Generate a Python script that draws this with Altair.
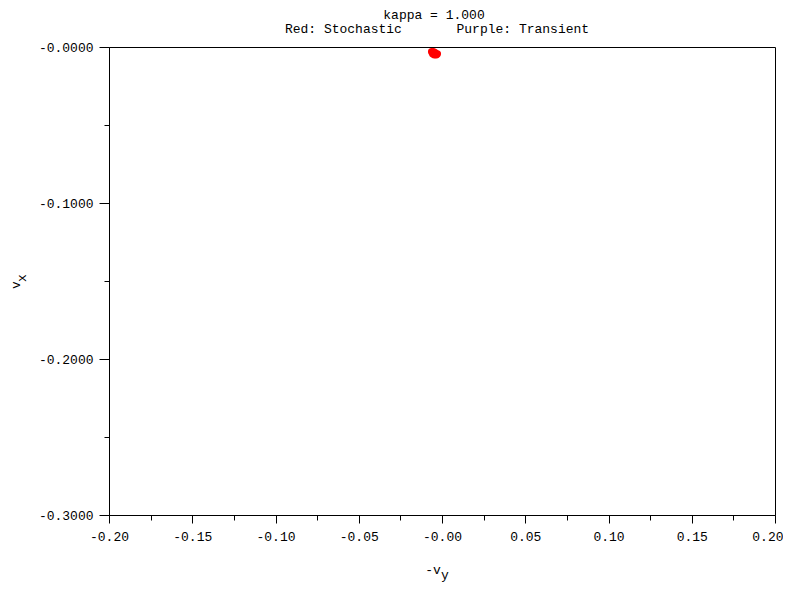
import altair as alt
import pandas as pd

# Red (stochastic) trajectory points: x = -v_y, y = v_x
stoch_x = [-0.0062, -0.0052, -0.0042, -0.0056, -0.0046, -0.0034, -0.0028, -0.0040]
stoch_y = [-0.0030, -0.0030, -0.0036, -0.0044, -0.0050, -0.0050, -0.0044, -0.0042]

x_major = [-0.20, -0.15, -0.10, -0.05, 0.0, 0.05, 0.10, 0.15, 0.20]
x_minor = [-0.175, -0.125, -0.075, -0.025, 0.025, 0.075, 0.125, 0.175]
y_major = [0.0, -0.1, -0.2, -0.3]
y_minor = [-0.05, -0.15, -0.25]

NB = "\u00a0"
title_lines = ["kappa = 1.000", "Red: Stochastic" + NB * 7 + "Purple: Transient"]

FONT = "Liberation Mono"
FS = 13

df = pd.DataFrame({"x": stoch_x, "y": stoch_y})

x_scale = alt.Scale(domain=[-0.2, 0.2], nice=False, zero=False)
y_scale = alt.Scale(domain=[-0.3, 0.0], nice=False, zero=False)

x_minor_test = "abs(datum.value*20 - round(datum.value*20)) > 0.001"
y_minor_test = "abs(datum.value*10 - round(datum.value*10)) > 0.001"

x_axis = alt.Axis(
    values=x_major + x_minor,
    orient="bottom",
    title=None,
    grid=False,
    domainColor="black",
    tickColor="black",
    tickSize={"condition": {"test": x_minor_test, "value": 5}, "value": 8},
    labelExpr=x_minor_test + " ? '' : (datum.value == 0 ? '-0.00' : replace(format(datum.value, '.2f'), '\u2212', '-'))",
    labelFont=FONT,
    labelFontSize=FS,
    labelColor="black",
    labelPadding=7,
    labelFlush=False,
    labelOverlap=False,
    labelAlign={"condition": {"test": "datum.value > 0.19", "value": "right"}, "value": "center"},
    labelOffset={"condition": {"test": "datum.value > 0.19", "value": 8}, "value": 0},
)

y_axis = alt.Axis(
    values=y_major + y_minor,
    orient="left",
    title=None,
    grid=False,
    domainColor="black",
    tickColor="black",
    tickSize={"condition": {"test": y_minor_test, "value": 5}, "value": 10},
    labelExpr=y_minor_test + " ? '' : (datum.value == 0 ? '-0.0000' : replace(format(datum.value, '.4f'), '\u2212', '-'))",
    labelFont=FONT,
    labelFontSize=FS,
    labelColor="black",
    labelPadding=6,
    labelFlush=False,
    labelOverlap=False,
)

points = alt.Chart(df).mark_circle(color="red", size=55, opacity=1).encode(
    x=alt.X("x:Q", scale=x_scale, axis=x_axis),
    y=alt.Y("y:Q", scale=y_scale, axis=y_axis),
)

def label(text, x, y, align="center", angle=0, baseline="alphabetic"):
    return alt.Chart(pd.DataFrame({"t": [text]})).mark_text(
        font=FONT, fontSize=FS, color="black", align=align, baseline=baseline, angle=angle
    ).encode(text="t:N", x=alt.value(x), y=alt.value(y))

t1 = label(title_lines[0], 325, -28)
t2 = label(title_lines[1], 328, -14)
xt = label("-v", 324, 527)
xs = label("y", 332, 532, align="left")
yt = label("v", -89, 238, angle=270)
ys = label("x", -83, 231, angle=270)

chart = alt.layer(points, t1, t2, xt, xs, yt, ys).properties(
    width=666,
    height=468,
    autosize=alt.AutoSizeParams(type="none"),
    padding={"left": 101, "top": 39, "right": 8, "bottom": 70},
).configure(background="white").configure_view(stroke="black", strokeWidth=1)

chart.save("out.html", embed_options={"renderer": "svg", "actions": False})
